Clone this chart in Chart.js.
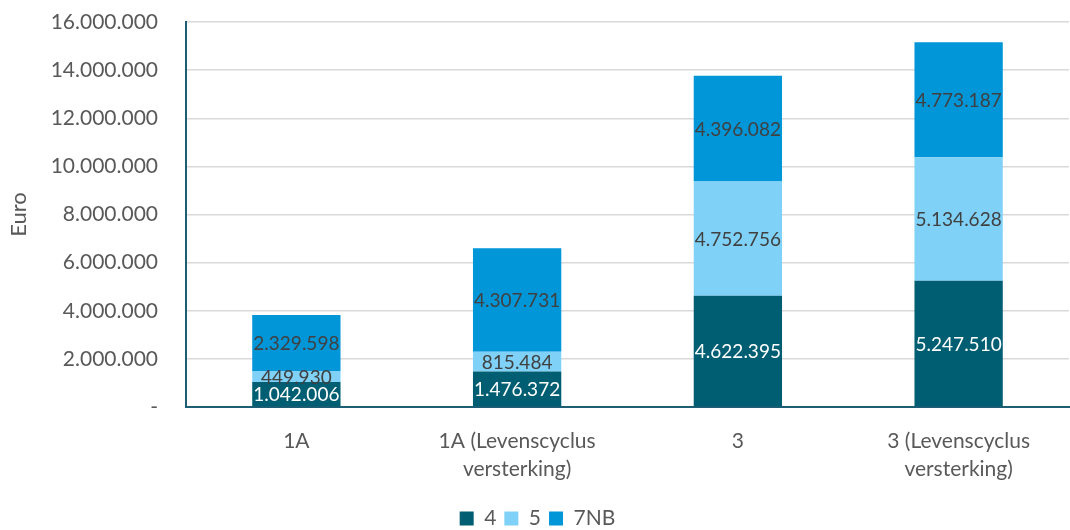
<!DOCTYPE html>
<html>
<head>
<meta charset="utf-8">
<script src="https://cdn.jsdelivr.net/npm/chart.js@4/dist/chart.umd.min.js"></script>
<style>
html,body{margin:0;padding:0;background:#fff;}
canvas{display:block;}
</style>
</head>
<body>
<canvas id="c" width="1070" height="530"></canvas>
<script>
const categories = [["1A"], ["1A (Levenscyclus", "versterking)"], ["3"], ["3 (Levenscyclus", "versterking)"]];
const seriesNames = ["4", "5", "7NB"];
const values4 = [1042006, 1476372, 4622395, 5247510];
const values5 = [449930, 815484, 4752756, 5134628];
const values7NB = [2329598, 4307731, 4396082, 4773187];
const yTicks = [0, 2000000, 4000000, 6000000, 8000000, 10000000, 12000000, 14000000, 16000000];

const colors = ["#005E73", "#7FD1F7", "#0096D8"];
const labelColors = ["#FFFFFF", "#404040", "#404040"];
const FONT = "Lato, 'Open Sans', sans-serif";
const FS = 21;
const LFS = 19;

function fmt(v){
  const s = Math.round(v).toString();
  return s.replace(/\B(?=(\d{3})+(?!\d))/g, ".");
}

const labelPlugin = {
  id: 'barLabels',
  afterLayout(chart){
    const lg = chart.legend;
    if (lg) { lg.top += 9; lg.bottom += 9; }
  },
  afterDatasetsDraw(chart){
    const ctx = chart.ctx;
    ctx.save();
    ctx.font = LFS + "px " + FONT;
    ctx.textAlign = 'center';
    ctx.textBaseline = 'middle';
    chart.data.datasets.forEach((ds, di) => {
      const meta = chart.getDatasetMeta(di);
      meta.data.forEach((bar, i) => {
        const p = bar.getProps(['x','y','base'], true);
        ctx.fillStyle = labelColors[di];
        ctx.fillText(fmt(ds.data[i]), p.x, (p.y + p.base) / 2 + 1);
      });
    });
    ctx.restore();
  }
};

new Chart(document.getElementById('c'), {
  type: 'bar',
  data: {
    labels: categories,
    datasets: [
      {label: seriesNames[0], data: values4, backgroundColor: colors[0]},
      {label: seriesNames[1], data: values5, backgroundColor: colors[1]},
      {label: seriesNames[2], data: values7NB, backgroundColor: colors[2]}
    ]
  },
  options: {
    responsive: false,
    animation: false,
    devicePixelRatio: 1,
    layout: {padding: {top: 22, right: 1, left: 6, bottom: 0}},
    datasets: {bar: {barPercentage: 0.4, categoryPercentage: 1.0, borderWidth: 0}},
    plugins: {
      legend: {
        position: 'bottom',
        labels: {
          color: '#595959',
          font: {size: FS, family: FONT},
          boxWidth: 14, boxHeight: 14,
          padding: 8
        }
      },
      tooltip: {enabled: false}
    },
    scales: {
      x: {
        stacked: true,
        grid: {display: false},
        border: {display: true, color: '#1D5E74', width: 2},
        ticks: {color: '#595959', font: {size: FS, family: FONT, lineHeight: 1.3}, padding: 13, maxRotation: 0},
        afterFit(scale){ scale.height = 84; scale.paddingLeft = 0; scale.paddingRight = 0; }
      },
      y: {
        stacked: true,
        min: 0, max: 16000000,
        afterBuildTicks(scale){ scale.ticks = yTicks.map(v => ({value: v})); },
        grid: {color: '#D9D9D9', lineWidth: 1.5, drawTicks: false},
        border: {display: true, color: '#1D5E74', width: 2},
        ticks: {
          color: '#595959', font: {size: FS, family: FONT}, padding: 28,
          callback: v => v === 0 ? '-' : fmt(v)
        },
        title: {display: true, text: 'Euro', color: '#595959', font: {size: 22, family: FONT}, padding: 0},
        afterFit(scale){ scale.width = 180; scale.paddingTop = 0; scale.paddingBottom = 0; }
      }
    }
  },
  plugins: [labelPlugin]
});
</script>
</body>
</html>
